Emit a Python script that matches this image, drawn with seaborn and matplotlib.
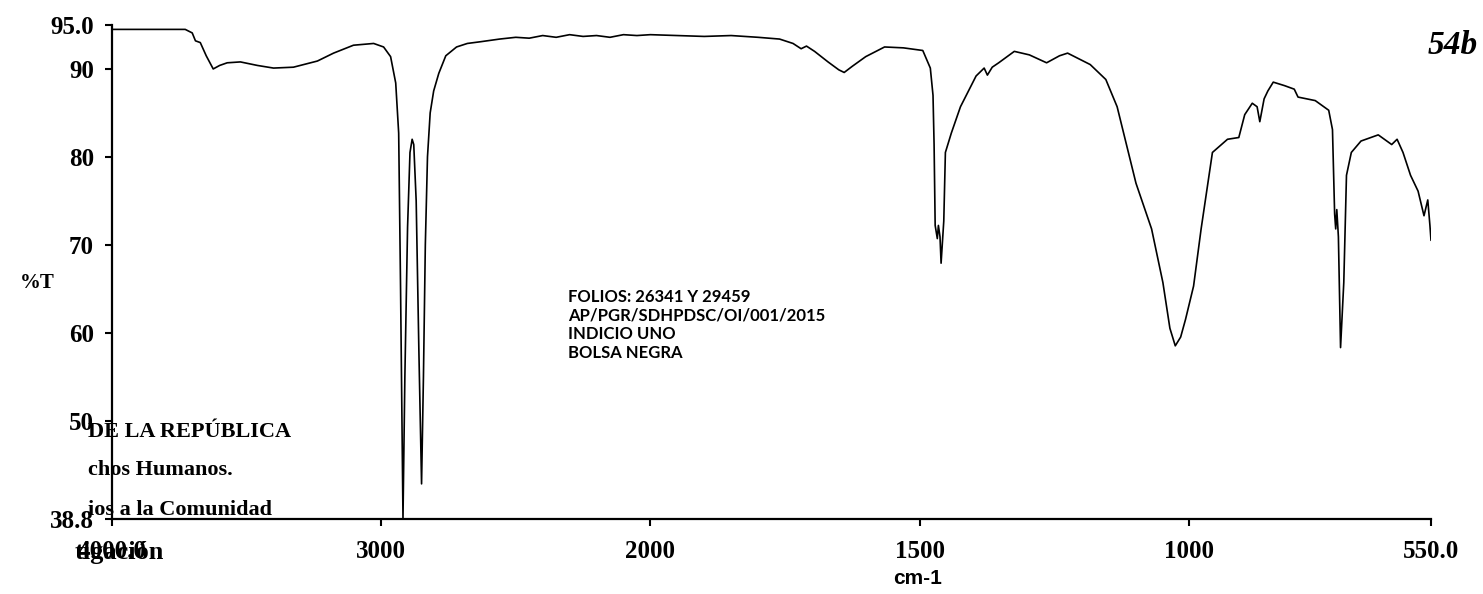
import numpy as np
import matplotlib
matplotlib.use("Agg")
import matplotlib.pyplot as plt
from matplotlib.ticker import NullLocator
import seaborn as sns

# FT-IR spectrum: wavenumber (cm-1) and transmittance (%T)
wavenumber = [
    4000, 3850, 3728, 3702, 3690, 3672, 3650, 3624, 3600, 3572, 3523, 3460,
    3400, 3326, 3237, 3177, 3103, 3028, 2991, 2965, 2946, 2935, 2928, 2919,
    2912, 2902, 2893, 2885, 2879, 2870, 2860, 2850, 2843, 2836, 2828, 2818,
    2805, 2786, 2760, 2720, 2680, 2630, 2560, 2500, 2450, 2400, 2350, 2300,
    2250, 2200, 2150, 2100, 2050, 2000, 1950, 1900, 1850, 1800, 1760, 1735,
    1720, 1710, 1695, 1670, 1650, 1640, 1625, 1600, 1565, 1530, 1494, 1480,
    1475, 1473, 1471, 1467, 1465, 1462, 1460, 1455, 1452, 1441, 1424, 1395,
    1380, 1374, 1365, 1353, 1324, 1296, 1264, 1240, 1225, 1183, 1154, 1133,
    1112, 1098, 1069, 1048, 1035, 1025, 1015, 1006, 991, 977, 956, 928,
    907, 896, 882, 873, 868, 860, 853, 843, 822, 804, 797, 765,
    740, 733, 729, 727, 725, 722, 718, 712, 707, 698, 680, 648,
    623, 613, 602, 588, 574, 563, 556, 552, 550,
]
transmittance = [
    94.5, 94.5, 94.5, 94.1, 93.2, 93.0, 91.5, 90.0, 90.4, 90.7, 90.8, 90.4,
    90.1, 90.2, 90.9, 91.8, 92.7, 92.9, 92.5, 91.4, 88.4, 82.7, 65.0, 38.9,
    55.0, 72.0, 80.5, 82.0, 81.4, 75.0, 58.0, 42.8, 55.0, 70.0, 80.0, 85.0,
    87.5, 89.5, 91.5, 92.5, 92.9, 93.1, 93.4, 93.6, 93.5, 93.8, 93.6, 93.9,
    93.7, 93.8, 93.6, 93.9, 93.8, 93.9, 93.8, 93.7, 93.8, 93.6, 93.4, 92.9,
    92.3, 92.6, 92.0, 90.8, 89.9, 89.6, 90.3, 91.4, 92.5, 92.4, 92.1, 90.1,
    87.0, 81.4, 72.2, 70.7, 72.2, 70.9, 67.9, 72.7, 80.5, 82.7, 85.7, 89.2,
    90.1, 89.3, 90.2, 90.7, 92.0, 91.6, 90.7, 91.5, 91.8, 90.5, 88.8, 85.7,
    80.5, 77.0, 71.8, 65.7, 60.5, 58.5, 59.5, 61.5, 65.3, 71.8, 80.5, 82.0,
    82.2, 84.8, 86.1, 85.7, 84.0, 86.6, 87.5, 88.5, 88.1, 87.7, 86.8, 86.4,
    85.3, 83.1, 73.5, 71.8, 74.0, 70.9, 58.3, 65.7, 77.9, 80.5, 81.8, 82.5,
    81.4, 82.0, 80.5, 77.9, 76.1, 73.3, 75.1, 72.2, 70.5,
]

x_ticks = [4000, 3000, 2000, 1500, 1000, 550]
x_tick_labels = ["4000.0", "3000", "2000", "1500", "1000", "550.0"]
y_ticks = [38.8, 50, 60, 70, 80, 90, 95.0]
y_tick_labels = ["38.8", "50", "60", "70", "80", "90", "95.0"]

sample_info = [
    "FOLIOS: 26341 Y 29459",
    "AP/PGR/SDHPDSC/OI/001/2015",
    "INDICIO UNO",
    "BOLSA NEGRA",
]
stamp_lines = [
    "DE LA REPÚBLICA",
    "chos Humanos.",
    "ios a la Comunidad",
    "tigación",
]

sns.set_theme(style="ticks")
plt.rcParams["font.family"] = ["Liberation Serif", "DejaVu Serif"]
plt.rcParams["text.color"] = "black"
plt.rcParams["axes.labelcolor"] = "black"
plt.rcParams["xtick.color"] = "black"
plt.rcParams["ytick.color"] = "black"

W, H = 1483, 594
fig = plt.figure(figsize=(W / 100, H / 100), dpi=100)
fig.patch.set_facecolor("white")
ax = fig.add_axes([112 / W, 1 - 519 / H, (1431 - 112) / W, (519 - 25) / H])
ax.set_facecolor("white")

sns.lineplot(x=wavenumber, y=transmittance, ax=ax, color="black",
             linewidth=1.2, sort=False, estimator=None)


# Instrument abscissa: below 2000 cm-1 the scale is expanded twofold
def _fwd(x):
    x = np.asarray(x, dtype=float)
    return np.where(x >= 2000, x, 2 * x - 2000)


def _inv(u):
    u = np.asarray(u, dtype=float)
    return np.where(u >= 2000, u, (u + 2000) / 2)


ax.set_xscale("function", functions=(_fwd, _inv))
ax.set_xlim(4000, 550)
ax.set_ylim(38.8, 95.0)

ax.set_xticks(x_ticks)
ax.set_xticklabels(x_tick_labels)
ax.set_yticks(y_ticks)
ax.set_yticklabels(y_tick_labels)
ax.xaxis.set_minor_locator(NullLocator())
ax.yaxis.set_minor_locator(NullLocator())

for lab in ax.get_xticklabels() + ax.get_yticklabels():
    lab.set_fontweight("bold")
    lab.set_fontsize(18)
    lab.set_color("black")
ax.tick_params(axis="both", direction="out", length=5, width=1.5,
               color="black", labelcolor="black")
ax.tick_params(axis="x", pad=10)
ax.tick_params(axis="y", pad=8)

sns.despine(ax=ax)
for side in ("left", "bottom"):
    ax.spines[side].set_linewidth(1.6)
    ax.spines[side].set_color("black")
ax.set_xlabel("")
ax.set_ylabel("")

fig.text(37 / W, 1 - 283 / H, "%T", ha="center", va="center",
         fontsize=15, fontweight="bold", color="black")
fig.text(918 / W, 1 - 578 / H, "cm-1", ha="center", va="center",
         fontsize=15, fontweight="bold", color="black",
         family=["Liberation Sans"])

fig.text(568 / W, 1 - 289 / H, "\n".join(sample_info), ha="left", va="top",
         fontsize=12, fontweight="bold", color="black",
         family=["Lato", "Liberation Sans"], linespacing=1.2)

stamp_pos = [(88, 432), (88, 470), (88, 510), (75, 552)]
stamp_size = [16, 16, 16, 19]
for (px, py), fs, txt in zip(stamp_pos, stamp_size, stamp_lines):
    fig.text(px / W, 1 - py / H, txt, ha="left", va="center",
             fontsize=fs, fontweight="bold", color="black")

fig.text(1453 / W, 1 - 45 / H, "54b", ha="center", va="center",
         fontsize=24, fontweight="bold", fontstyle="italic", color="black")

fig.savefig("out.png", dpi=100, facecolor="white")
